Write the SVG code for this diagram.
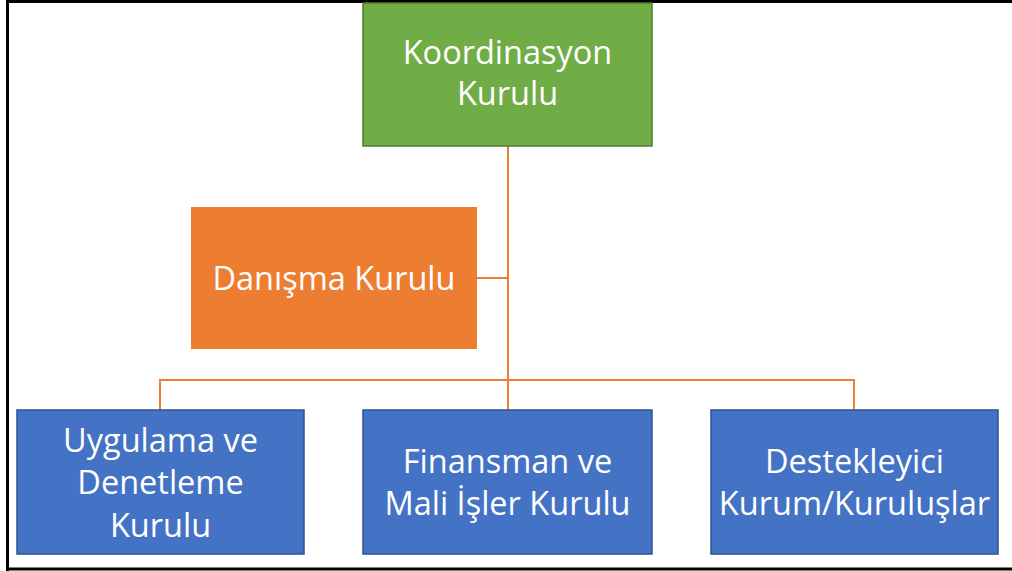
<svg xmlns="http://www.w3.org/2000/svg" width="1012" height="571" viewBox="0 0 1012 571">
<style>
.t{font-family:"Open Sans","Noto Sans",sans-serif;font-size:32.5px;fill:#ffffff;text-anchor:middle}
.green{fill:#70AD47;stroke:#507E32;stroke-width:1.5}
.orange{fill:#ED7D31}
.blue{fill:#4472C4;stroke:#2F528F;stroke-width:1.5}
.conn{stroke:#ED7D31;stroke-width:2;fill:none}
</style>
<rect x="0" y="0" width="1012" height="571" fill="#ffffff"/>
<g id="frame" stroke="#000" stroke-width="3" fill="none">
<line x1="7" y1="1.5" x2="1012" y2="1.5"/>
<line x1="7.5" y1="0" x2="7.5" y2="571"/>
<line x1="7" y1="569" x2="1012" y2="569"/>
</g>
<g id="connectors" class="conn">
<line x1="508" y1="146" x2="508" y2="410"/>
<line x1="477" y1="278" x2="508" y2="278"/>
<polyline points="160,410 160,380 854,380 854,410"/>
</g>
<g id="koordinasyon">
<rect class="green" x="363" y="3" width="289" height="143"/>
<text class="t" x="507.5" y="64">Koordinasyon</text>
<text class="t" x="507.5" y="105">Kurulu</text>
</g>
<g id="danisma">
<rect class="orange" x="191" y="207" width="286" height="142"/>
<text class="t" x="334" y="290">Danışma Kurulu</text>
</g>
<g id="uygulama">
<rect class="blue" x="17" y="410" width="287" height="144"/>
<text class="t" x="160.5" y="452">Uygulama ve</text>
<text class="t" x="160.5" y="494">Denetleme</text>
<text class="t" x="160.5" y="537">Kurulu</text>
</g>
<g id="finansman">
<rect class="blue" x="363" y="410" width="289" height="144"/>
<text class="t" x="507.5" y="473">Finansman ve</text>
<text class="t" x="507.5" y="515">Mali İşler Kurulu</text>
</g>
<g id="destekleyici">
<rect class="blue" x="711" y="410" width="287" height="144"/>
<text class="t" x="854.5" y="473">Destekleyici</text>
<text class="t" x="854.5" y="515">Kurum/Kuruluşlar</text>
</g>
</svg>
